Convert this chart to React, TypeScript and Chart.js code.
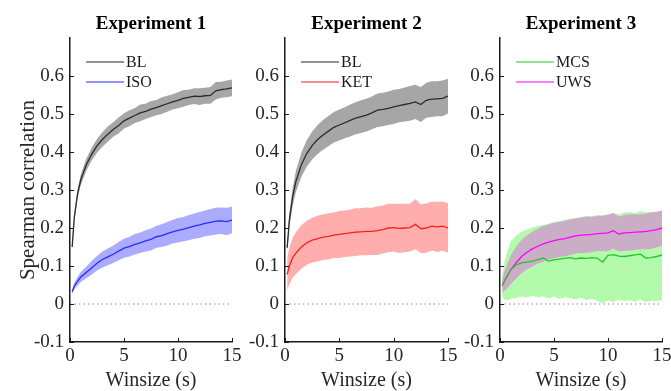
import React, { useEffect, useRef } from 'react';
import { Chart, registerables } from 'chart.js';

Chart.register(...registerables);

const FONT = '"Liberation Serif", "Times New Roman", Times, serif';

// ---------- data ----------
const winsize = [0.2, 0.4, 0.7, 1, 1.5, 2, 2.5, 3, 3.5, 4, 4.5, 5, 5.5, 6, 6.5, 7, 7.5, 8, 8.5, 9, 9.5, 10, 10.5, 11, 11.5, 12, 12.5, 13, 13.5, 14, 14.5, 15];
const xTicks = [0, 5, 10, 15];
const yTicks = [-0.1, 0, 0.1, 0.2, 0.3, 0.4, 0.5, 0.6];
const panelTitles = ['Experiment 1', 'Experiment 2', 'Experiment 3'];

const exp1BL = [0.15, 0.228, 0.29, 0.327, 0.366, 0.394, 0.416, 0.433, 0.447, 0.459, 0.47, 0.482, 0.489, 0.496, 0.503, 0.507, 0.513, 0.517, 0.522, 0.527, 0.532, 0.536, 0.541, 0.544, 0.547, 0.546, 0.548, 0.549, 0.561, 0.564, 0.566, 0.569];
const exp1BLErr = [0.006, 0.01, 0.012, 0.014, 0.016, 0.017, 0.018, 0.019, 0.02, 0.019, 0.021, 0.02, 0.021, 0.02, 0.022, 0.02, 0.021, 0.02, 0.022, 0.021, 0.02, 0.021, 0.022, 0.02, 0.021, 0.022, 0.021, 0.022, 0.023, 0.021, 0.022, 0.022];
const exp1ISO = [0.032, 0.047, 0.06, 0.071, 0.083, 0.095, 0.107, 0.117, 0.124, 0.131, 0.139, 0.147, 0.151, 0.157, 0.161, 0.166, 0.17, 0.177, 0.18, 0.185, 0.19, 0.194, 0.197, 0.201, 0.205, 0.208, 0.212, 0.215, 0.218, 0.219, 0.217, 0.221];
const exp1ISOErr = [0.006, 0.009, 0.011, 0.013, 0.015, 0.018, 0.019, 0.021, 0.022, 0.023, 0.024, 0.025, 0.026, 0.027, 0.027, 0.028, 0.029, 0.029, 0.03, 0.031, 0.031, 0.032, 0.032, 0.033, 0.033, 0.034, 0.034, 0.035, 0.035, 0.035, 0.036, 0.035];

const exp2BL = [0.148, 0.22, 0.281, 0.322, 0.366, 0.396, 0.417, 0.433, 0.445, 0.455, 0.465, 0.471, 0.477, 0.483, 0.489, 0.493, 0.497, 0.503, 0.51, 0.512, 0.515, 0.519, 0.522, 0.525, 0.528, 0.532, 0.525, 0.536, 0.539, 0.54, 0.541, 0.547];
const exp2BLErr = [0.012, 0.018, 0.024, 0.028, 0.032, 0.035, 0.037, 0.038, 0.039, 0.04, 0.04, 0.041, 0.041, 0.042, 0.042, 0.043, 0.043, 0.043, 0.044, 0.044, 0.044, 0.045, 0.044, 0.045, 0.046, 0.045, 0.046, 0.046, 0.047, 0.046, 0.047, 0.046];
const exp2KET = [0.078, 0.1, 0.122, 0.134, 0.15, 0.161, 0.168, 0.172, 0.176, 0.178, 0.181, 0.183, 0.185, 0.187, 0.189, 0.19, 0.191, 0.191, 0.193, 0.196, 0.2, 0.201, 0.199, 0.2, 0.201, 0.21, 0.198, 0.2, 0.205, 0.203, 0.205, 0.2];
const exp2KETErr = [0.042, 0.048, 0.052, 0.055, 0.057, 0.058, 0.059, 0.06, 0.06, 0.061, 0.06, 0.062, 0.061, 0.062, 0.063, 0.062, 0.063, 0.062, 0.064, 0.063, 0.064, 0.063, 0.065, 0.064, 0.063, 0.066, 0.064, 0.065, 0.064, 0.066, 0.065, 0.065];

const exp3MCS = [0.048, 0.06, 0.075, 0.09, 0.103, 0.108, 0.11, 0.113, 0.117, 0.121, 0.113, 0.116, 0.118, 0.12, 0.122, 0.119, 0.121, 0.12, 0.122, 0.121, 0.11, 0.128, 0.13, 0.126, 0.125, 0.127, 0.129, 0.131, 0.121, 0.122, 0.125, 0.129];
const exp3MCSLow = [0.02, 0.012, 0.01, 0.014, 0.016, 0.02, 0.018, 0.022, 0.017, 0.02, 0.015, 0.02, 0.013, 0.018, 0.015, 0.012, 0.017, 0.01, 0.014, 0.008, 0.002, 0.01, 0.005, 0.012, 0.008, 0.01, 0.006, 0.012, 0.005, 0.009, 0.007, 0.01];
const exp3MCSHigh = [0.075, 0.11, 0.14, 0.165, 0.18, 0.19, 0.196, 0.201, 0.205, 0.208, 0.212, 0.216, 0.218, 0.222, 0.224, 0.226, 0.228, 0.231, 0.23, 0.234, 0.233, 0.236, 0.238, 0.236, 0.24, 0.242, 0.239, 0.244, 0.241, 0.243, 0.242, 0.246];
const exp3UWS = [0.048, 0.06, 0.075, 0.09, 0.109, 0.125, 0.136, 0.145, 0.152, 0.158, 0.163, 0.167, 0.17, 0.172, 0.176, 0.179, 0.181, 0.182, 0.183, 0.185, 0.186, 0.187, 0.193, 0.184, 0.187, 0.188, 0.189, 0.19, 0.191, 0.193, 0.196, 0.2];
const exp3UWSErr = [0.018, 0.026, 0.033, 0.038, 0.042, 0.044, 0.045, 0.046, 0.046, 0.047, 0.046, 0.047, 0.046, 0.047, 0.047, 0.046, 0.047, 0.048, 0.047, 0.046, 0.047, 0.048, 0.047, 0.046, 0.047, 0.048, 0.047, 0.046, 0.047, 0.048, 0.047, 0.047];

type Series = { label: string; mean: number[]; lo: number[]; hi: number[]; line: string; band: string };

const plusErr = (m: number[], e: number[]) => m.map((v, i) => v + e[i]);
const minusErr = (m: number[], e: number[]) => m.map((v, i) => v - e[i]);

const panels: { series: Series[] }[] = [
  {
    series: [
      { label: 'BL', mean: exp1BL, lo: minusErr(exp1BL, exp1BLErr), hi: plusErr(exp1BL, exp1BLErr), line: '#2a2a2a', band: 'rgba(0,0,0,0.35)' },
      { label: 'ISO', mean: exp1ISO, lo: minusErr(exp1ISO, exp1ISOErr), hi: plusErr(exp1ISO, exp1ISOErr), line: '#2b2bff', band: 'rgba(0,0,255,0.33)' },
    ],
  },
  {
    series: [
      { label: 'BL', mean: exp2BL, lo: minusErr(exp2BL, exp2BLErr), hi: plusErr(exp2BL, exp2BLErr), line: '#2a2a2a', band: 'rgba(0,0,0,0.35)' },
      { label: 'KET', mean: exp2KET, lo: minusErr(exp2KET, exp2KETErr), hi: plusErr(exp2KET, exp2KETErr), line: '#ff1c1c', band: 'rgba(255,0,0,0.32)' },
    ],
  },
  {
    series: [
      { label: 'MCS', mean: exp3MCS, lo: exp3MCSLow, hi: exp3MCSHigh, line: '#22c822', band: 'rgba(20,240,0,0.32)' },
      { label: 'UWS', mean: exp3UWS, lo: minusErr(exp3UWS, exp3UWSErr), hi: plusErr(exp3UWS, exp3UWSErr), line: '#ff00ff', band: 'rgba(255,0,255,0.3)' },
    ],
  },
];

const layouts = [
  { left: 0, width: 244, yWidth: 70, padRight: 12, yLabel: true },
  { left: 244, width: 216, yWidth: 41, padRight: 12, yLabel: false },
  { left: 460, width: 211, yWidth: 40, padRight: 9, yLabel: false },
];

const H = 391;

function makeDecor(series: Series[]) {
  return {
    id: 'decor',
    afterDraw(chart: any) {
      const { ctx, chartArea } = chart;
      const xs = chart.scales.x;
      const ys = chart.scales.y;
      ctx.save();
      ctx.strokeStyle = '#1a1a1a';
      ctx.lineWidth = 1;
      ctx.beginPath();
      yTicks.forEach((v) => {
        const py = Math.round(ys.getPixelForValue(v)) + 0.5;
        ctx.moveTo(chartArea.left, py);
        ctx.lineTo(chartArea.left + 4, py);
      });
      xTicks.forEach((v) => {
        const px = Math.round(xs.getPixelForValue(v)) + 0.5;
        ctx.moveTo(px, chartArea.bottom);
        ctx.lineTo(px, chartArea.bottom - 4);
      });
      ctx.stroke();
      // legend
      ctx.font = `16px ${FONT}`;
      ctx.textBaseline = 'middle';
      ctx.textAlign = 'left';
      series.forEach((s, i) => {
        const y = chartArea.top + 24 + i * 20;
        ctx.strokeStyle = s.line;
        ctx.lineWidth = 1.2;
        ctx.beginPath();
        ctx.moveTo(chartArea.left + 16, y);
        ctx.lineTo(chartArea.left + 54, y);
        ctx.stroke();
        ctx.fillStyle = '#1a1a1a';
        ctx.fillText(s.label, chartArea.left + 56, y + 1);
      });
      ctx.restore();
    },
  };
}

function Panel({ index }: { index: number }) {
  const ref = useRef<HTMLCanvasElement>(null);
  const lay = layouts[index];
  useEffect(() => {
    if (!ref.current) return;
    const { series } = panels[index];
    const pts = (arr: number[]) => winsize.map((x, i) => ({ x, y: arr[i] }));
    const datasets: any[] = [];
    series.forEach((s) => {
      datasets.push({ label: s.label, data: pts(s.mean), borderColor: s.line, borderWidth: 1.3, pointRadius: 0, fill: false, tension: 0 });
    });
    datasets.push({
      label: 'zero',
      data: [{ x: xTicks[0], y: 0 }, { x: xTicks[xTicks.length - 1], y: 0 }],
      borderColor: '#8a8a8a',
      borderWidth: 1,
      borderDash: [1.5, 3],
      pointRadius: 0,
      fill: false,
    });
    [...series].reverse().forEach((s) => {
      datasets.push({ label: s.label + ' hi', data: pts(s.hi), borderColor: 'rgba(0,0,0,0)', borderWidth: 0, pointRadius: 0, backgroundColor: s.band, fill: '+1' });
      datasets.push({ label: s.label + ' lo', data: pts(s.lo), borderColor: 'rgba(0,0,0,0)', borderWidth: 0, pointRadius: 0, fill: false });
    });

    const tickFont = { family: FONT, size: 19 };
    const chart = new Chart(ref.current, {
      type: 'line',
      data: { datasets },
      options: {
        animation: false,
        responsive: false,
        devicePixelRatio: 1,
        layout: { padding: { left: 0, right: lay.padRight, top: 0, bottom: 0 } },
        plugins: {
          legend: { display: false },
          tooltip: { enabled: false },
          filler: { drawTime: 'beforeDatasetsDraw' },
          title: {
            display: true,
            text: panelTitles[index],
            fullSize: false,
            color: '#000',
            font: { family: FONT, size: 19, weight: 'bold', lineHeight: 1.2 },
            padding: { top: 12.5, bottom: 2.7 },
          },
        },
        scales: {
          x: {
            type: 'linear',
            min: 0,
            max: 15,
            afterBuildTicks: (s: any) => { s.ticks = xTicks.map((v) => ({ value: v })); },
            ticks: { color: '#262626', font: tickFont, padding: 3, maxRotation: 0, autoSkip: false },
            grid: { display: false, drawTicks: false },
            border: { display: true, color: '#1a1a1a', width: 1.5 },
            title: { display: true, text: 'Winsize (s)', color: '#262626', font: { family: FONT, size: 20, lineHeight: 1 }, padding: { top: 0, bottom: 0 } },
            afterFit: (s: any) => { s.height = 49; s.paddingLeft = 0; s.paddingRight = 0; },
          },
          y: {
            type: 'linear',
            min: -0.1,
            max: 0.7,
            afterBuildTicks: (s: any) => { s.ticks = yTicks.map((v) => ({ value: v })); },
            ticks: {
              color: '#262626',
              font: tickFont,
              padding: 6,
              callback: (v: any) => { const n = Math.round(Number(v) * 10) / 10; return n === 0 ? '0' : String(n); },
            },
            grid: { display: false, drawTicks: false },
            border: { display: true, color: '#1a1a1a', width: 1.5 },
            title: {
              display: lay.yLabel,
              text: 'Spearman correlation',
              color: '#262626',
              font: { family: FONT, size: 21, lineHeight: 1 },
              padding: { top: 18, bottom: 0 },
            },
            afterFit: (s: any) => { s.width = lay.yWidth; s.paddingTop = 0; s.paddingBottom = 0; },
          },
        },
      } as any,
      plugins: [makeDecor(series)],
    });
    return () => chart.destroy();
  }, [index]);
  return (
    <div style={{ position: 'absolute', left: lay.left, top: 0, width: lay.width, height: H }}>
      <canvas ref={ref} width={lay.width} height={H} style={{ width: lay.width, height: H, display: 'block' }} />
    </div>
  );
}

export default function App() {
  return (
    <div style={{ position: 'fixed', left: 0, top: 0, width: 671, height: H, background: '#fff', overflow: 'hidden' }}>
      <Panel index={0} />
      <Panel index={1} />
      <Panel index={2} />
    </div>
  );
}
